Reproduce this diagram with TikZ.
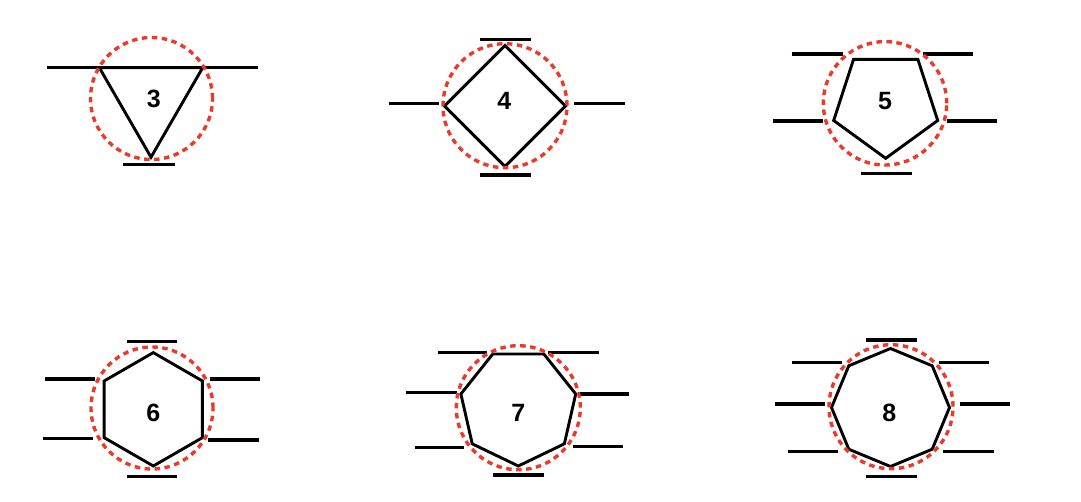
\documentclass[tikz,border=0pt]{standalone}
\usepackage{fontspec}
\setmainfont{Liberation Sans}
\definecolor{ringred}{RGB}{234,58,42}
\tikzset{
  lead/.style={draw=black, line width=3.2pt},
  poly/.style={draw=black, line width=2.9pt, line join=miter},
  ring/.style={draw=ringred, line width=3.4pt, dash pattern=on 5.5pt off 4.5pt},
  num/.style={font=\fontsize{25}{25}\selectfont\bfseries, inner sep=0pt}
}
% \leadseg{name}{x1}{x2}{y}
\newcommand{\leadseg}[4]{%
  \coordinate (#1a) at (#2,#4);
  \coordinate (#1b) at (#3,#4);
  \draw[lead] (#1a) -- (#1b);
}
% \ngon{name}{cx}{cy}{R}{n}{startangle}
\newcommand{\ngon}[6]{%
  \coordinate (#1) at (#2,#3);
  \draw[poly] (#1) ++(#6:#4)
    \foreach \k in {1,...,#5} { -- ($(#1)+({#6+360*\k/#5}:#4)$) } -- cycle;
}
\usetikzlibrary{calc}
\begin{document}
\begin{tikzpicture}[x=1pt,y=-1pt]
\useasboundingbox[fill=white] (0,0) rectangle (1081,501);

% ---------- 3 ----------
\leadseg{tA}{47}{99.3}{67.7}
\leadseg{tB}{202.7}{258}{67.7}
\leadseg{tC}{123.3}{175}{164.3}
\ngon{c3}{151}{97.5}{59.7}{3}{90}
\node[ring, circle, minimum size=122pt, inner sep=0pt] (r3) at (151.5,98.5) {};
\node[num] (n3) at (153.7,98.7) {3};

% ---------- 4 ----------
\leadseg{qA}{480}{530.7}{39.3}
\leadseg{qB}{480}{530.7}{175}
\leadseg{qC}{389.3}{439.3}{103.5}
\leadseg{qD}{574.3}{625}{103.5}
\ngon{c4}{505}{106}{60.5}{4}{0}
\node[ring, circle, minimum size=124pt, inner sep=0pt] (r4) at (505,105.7) {};
\node[num] (n4) at (504.3,100.7) {4};

% ---------- 5 ----------
\leadseg{pA}{791.7}{842.7}{54}
\leadseg{pB}{923.3}{973.3}{54}
\leadseg{pC}{772.7}{822.7}{121}
\leadseg{pD}{947.3}{997.3}{121}
\leadseg{pE}{861}{911.7}{173.3}
\ngon{c5}{885.7}{103.6}{54.7}{5}{90}
\node[ring, circle, minimum size=123.4pt, inner sep=0pt] (r5) at (885,103.3) {};
\node[num] (n5) at (885,101) {5};

% ---------- 6 ----------
\leadseg{hA}{126.7}{177.3}{341.7}
\leadseg{hB}{126.7}{177.3}{476.7}
\leadseg{hC}{45}{95}{379}
\leadseg{hD}{210}{260}{379}
\leadseg{hE}{43.3}{93.3}{438.3}
\leadseg{hF}{208.3}{259.3}{440}
\ngon{c6}{153.3}{409.3}{56.7}{6}{30}
\node[ring, circle, minimum size=122pt, inner sep=0pt] (r6) at (152,408) {};
\node[num] (n6) at (153.3,413.3) {6};

% ---------- 7 ----------
\leadseg{sA}{438.3}{487.3}{352.3}
\leadseg{sB}{548.3}{599.3}{352.3}
\leadseg{sC}{406}{456.7}{392.7}
\leadseg{sD}{578.3}{629.3}{394}
\leadseg{sE}{415}{464}{447.3}
\leadseg{sF}{573.3}{623.3}{446.7}
\leadseg{sG}{492.7}{544}{475}
\ngon{c7}{518.3}{407.1}{58.9}{7}{90}
\node[ring, circle, minimum size=124pt, inner sep=0pt] (r7) at (518.3,407.7) {};
\node[num] (n7) at (518.3,413.3) {7};

% ---------- 8 ----------
\leadseg{oA}{866}{916.7}{340}
\leadseg{oB}{866}{916.7}{476.7}
\leadseg{oC}{791.7}{841.7}{362.3}
\leadseg{oD}{939.3}{989.3}{362.3}
\leadseg{oE}{775}{825}{404}
\leadseg{oF}{960}{1010}{404}
\leadseg{oG}{788.3}{838.3}{451.7}
\leadseg{oH}{943.3}{994}{451.7}
\ngon{c8}{890.5}{407.5}{59}{8}{0}
\node[ring, circle, minimum size=124pt, inner sep=0pt] (r8) at (891,406.7) {};
\node[num] (n8) at (889.3,413.3) {8};
\end{tikzpicture}
\end{document}
